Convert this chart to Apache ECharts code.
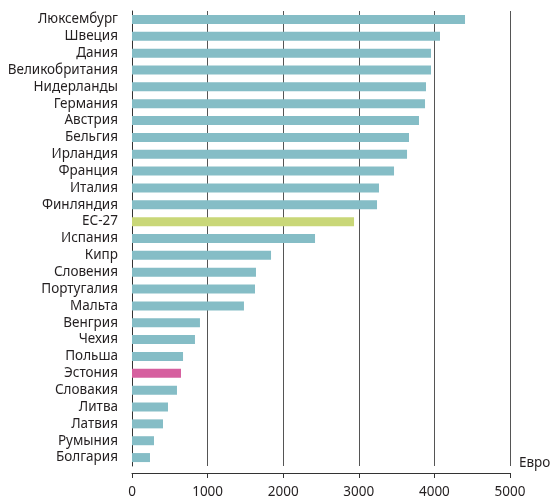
<!DOCTYPE html>
<html><head><meta charset="utf-8">
<script src="https://cdn.jsdelivr.net/npm/echarts@6/dist/echarts.min.js"></script>
<style>html,body{margin:0;padding:0;background:#fff}#c{width:553px;height:500px}</style>
</head><body><div id="c"></div>
<script>
var categories = ["Люксембург","Швеция","Дания","Великобритания","Нидерланды","Германия","Австрия","Бельгия","Ирландия","Франция","Италия","Финляндия","ЕС-27","Испания","Кипр","Словения","Португалия","Мальта","Венгрия","Чехия","Польша","Эстония","Словакия","Литва","Латвия","Румыния","Болгария"];
var values = [4405,4074,3955,3955,3889,3876,3796,3664,3638,3466,3267,3241,2937,2421,1839,1640,1627,1481,899,833,675,648,595,476,410,291,238];
var highlightEU = "ЕС-27";
var highlightEE = "Эстония";
var xTicks = [0,1000,2000,3000,4000,5000];
var unitLabel = "Евро";

var chart = echarts.init(document.getElementById('c'), null, {renderer:'canvas'});
var FONT = '"Noto Sans", sans-serif';
var data = values.map(function(v,i){
  var c = '#85bdc6';
  if (categories[i]===highlightEU) c = '#c9d778';
  if (categories[i]===highlightEE) c = '#d6609f';
  return {value:v, itemStyle:{color:c}};
});
chart.setOption({
  animation:false,
  grid:{left:132,right:43,top:11,bottom:34,containLabel:false},
  xAxis:{type:'value',min:xTicks[0],max:xTicks[xTicks.length-1],interval:1000,offset:7,
    axisLine:{show:true,lineStyle:{color:'#333',width:1}},
    axisTick:{show:true,length:5,lineStyle:{color:'#333'}},
    axisLabel:{color:'#231f20',fontSize:13.5,fontFamily:FONT,margin:12,formatter:function(v){return String(v);}},
    splitLine:{show:true,lineStyle:{color:'#555',width:1}}},
  yAxis:{type:'category',data:categories,inverse:true,
    axisLine:{show:true,lineStyle:{color:'#333',width:1}},axisTick:{show:false},
    axisLabel:{color:'#231f20',fontSize:13.5,fontFamily:FONT,margin:14,interval:0}},
  graphic:[{type:'text',left:519,top:456,style:{text:unitLabel,fill:'#231f20',font:'13.5px "Noto Sans", sans-serif'}}],
  series:[{type:'bar',data:data,barWidth:9}]
});
</script></body></html>
